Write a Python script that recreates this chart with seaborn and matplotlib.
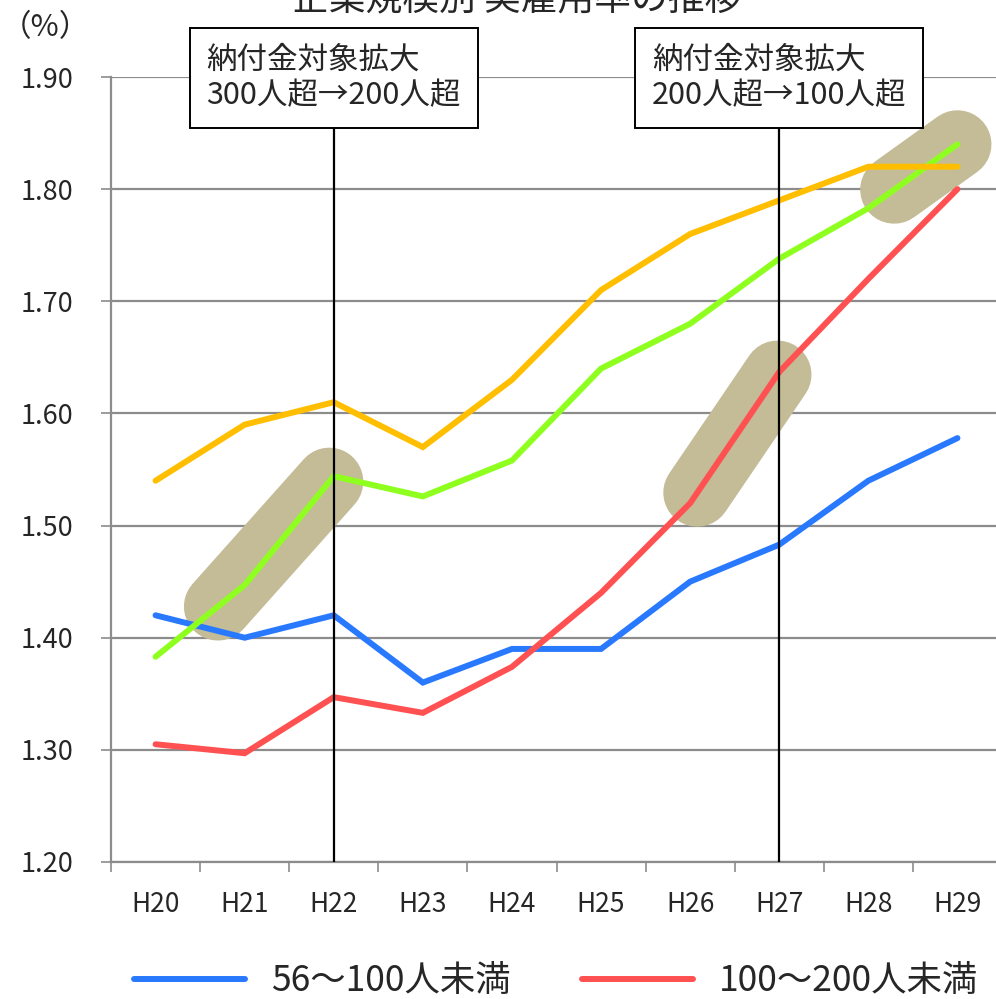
import numpy as np
import pandas as pd
import matplotlib
matplotlib.use("Agg")
import matplotlib.pyplot as plt
import seaborn as sns
from matplotlib.lines import Line2D

# ---- data ----
years = ["H20", "H21", "H22", "H23", "H24", "H25", "H26", "H27", "H28", "H29"]
s_56_100 = [1.42, 1.40, 1.42, 1.36, 1.39, 1.39, 1.45, 1.483, 1.54, 1.578]
s_100_200 = [1.305, 1.297, 1.347, 1.333, 1.374, 1.44, 1.52, 1.637, 1.72, 1.80]
s_200_300 = [1.383, 1.447, 1.544, 1.526, 1.558, 1.64, 1.68, 1.738, 1.783, 1.84]
s_300_plus = [1.54, 1.59, 1.61, 1.57, 1.63, 1.71, 1.76, 1.79, 1.82, 1.82]
series_names = ["56～100人未満", "100～200人未満", "200～300人未満", "300人以上"]
series_colors = ["#2979ff", "#ff5151", "#8fff1f", "#ffbf00"]
title = "企業規模別 実雇用率の推移"
unit_label = "（%）"
events = [(2, "納付金対象拡大\n300人超→200人超"), (7, "納付金対象拡大\n200人超→100人超")]
# highlighted segments: (series index, start x, end x)
highlights = [(2, 0.70, 1.95), (1, 6.08, 6.98), (2, 8.29, 9.0)]
yticks = [1.20, 1.30, 1.40, 1.50, 1.60, 1.70, 1.80, 1.90]

sns.set_theme(style="white")
plt.rcParams["font.family"] = ["Noto Sans CJK JP", "DejaVu Sans"]

all_series = [s_56_100, s_100_200, s_200_300, s_300_plus]
df = pd.DataFrame({
    "x": np.tile(np.arange(len(years)), len(all_series)),
    "value": np.concatenate(all_series),
    "group": np.repeat(series_names, len(years)),
})

fig = plt.figure(figsize=(9.96, 9.99), dpi=100)
W, H = 996, 999
ax = fig.add_axes([111 / W, 1 - 862 / H, 891 / W, (862 - 77) / H])

grid_c = "#8c8c8c"
ax.set_xlim(-0.5, len(years) - 0.5)
ax.set_ylim(1.2, 1.9)
ax.set_yticks(yticks)
ax.set_yticklabels([f"{v:.2f}" for v in yticks])
for v in yticks:
    ax.axhline(v, color=grid_c, lw=1.6, zorder=0)

# highlight capsules
xs_full = np.arange(len(years))
for si, x0, x1 in highlights:
    xx = np.array([x0, x1])
    yy = np.interp(xx, xs_full, all_series[si])
    ax.plot(xx, yy, color="#c4bc97", lw=49, solid_capstyle="round", zorder=1)

sns.lineplot(data=df, x="x", y="value", hue="group", hue_order=series_names,
             palette=series_colors, lw=4.3, ax=ax, legend=False, zorder=3,
             sort=False, estimator=None)
for ln in ax.lines[-4:]:
    ln.set_solid_capstyle("round")
    ln.set_solid_joinstyle("miter")

ax.set_xlabel("")
ax.set_ylabel("")
ax.set_xticks(xs_full)
ax.set_xticklabels(years)
ax.set_xticks(np.arange(-0.5, len(years) - 0.4, 1.0), minor=True)
ax.tick_params(axis="x", which="major", length=0, pad=21, labelsize=19)
ax.tick_params(axis="x", which="minor", length=7, width=1.2, color=grid_c, direction="out", bottom=True)
ax.tick_params(axis="y", which="major", length=7, width=1.2, color=grid_c, direction="out", left=True, pad=20, labelsize=19.5)
for side in ["top", "right"]:
    ax.spines[side].set_visible(False)
for side in ["left", "bottom"]:
    ax.spines[side].set_color(grid_c)
    ax.spines[side].set_linewidth(1.6)

# event lines and boxes
box_y = 1.90 - 51 / 1121.4
fs_box = 22
pad_box = 0.55
for xi, label in events:
    ax.vlines(xi, 1.2, box_y, color="black", lw=1.6, zorder=4)
    ax.annotate(label, xy=(xi, box_y), xytext=(0, pad_box * fs_box),
                textcoords="offset points", ha="center", va="bottom",
                multialignment="left", fontsize=fs_box, linespacing=1.2,
                zorder=5, annotation_clip=False,
                bbox=dict(boxstyle=f"square,pad={pad_box}", fc="white", ec="black", lw=1.4))

# title (partially cropped at top, as in the source) and unit label
fig.text(517 / W, 1 - 9 / H, title, ha="center", va="baseline", fontsize=26.5)
fig.text(1 / W, 1 - 28 / H, unit_label, ha="left", va="center", fontsize=22)

# legend (only the first two entries fit in the frame)
handles = [Line2D([], [], color=c, lw=4.3) for c in series_colors[:2]]
fig.legend(handles, series_names[:2], loc="center left",
           bbox_to_anchor=(134 / W, 1 - 981 / H), ncol=2, frameon=False,
           fontsize=25.5, handlelength=3.14, handletextpad=0.73, columnspacing=2.0,
           borderpad=0, borderaxespad=0)

fig.savefig("out.png", dpi=100)
